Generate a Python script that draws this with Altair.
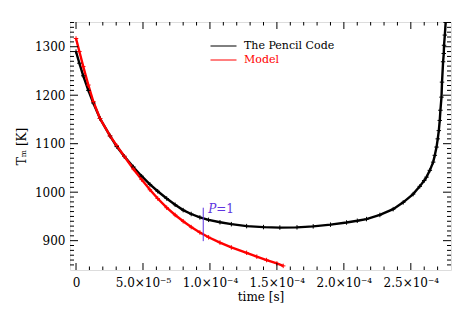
import altair as alt
import pandas as pd

# ---- data ----
pc_time = [0, 0.25e-5, 0.54e-5, 0.92e-5, 1.29e-5, 1.79e-5, 2.54e-5, 3.04e-5, 3.6e-5,
           4.28e-5, 4.9e-5, 5.52e-5, 6.1e-5, 6.77e-5, 7.4e-5, 8.0e-5, 8.6e-5, 9.25e-5,
           9.9e-5, 10.75e-5, 11.6e-5, 12.74e-5, 14.0e-5, 15.22e-5, 16.5e-5, 17.71e-5,
           19.0e-5, 20.2e-5, 21.0e-5, 21.69e-5, 22.69e-5, 23.68e-5, 24.43e-5, 25.17e-5,
           25.67e-5, 26.0e-5, 26.17e-5, 26.42e-5, 26.67e-5, 26.79e-5, 26.92e-5, 27.01e-5,
           27.09e-5, 27.16e-5, 27.21e-5, 27.29e-5, 27.33e-5, 27.41e-5, 27.46e-5, 27.48e-5,
           27.54e-5, 27.6e-5]
pc_temp = [1290, 1266, 1240, 1210, 1184, 1152, 1116, 1094, 1074,
           1052, 1033, 1016, 1002, 987, 974, 963, 955, 948,
           943, 938, 934, 930, 928, 927, 927.5, 929.5,
           933, 937.5, 941, 944.5, 953, 965, 979, 996,
           1012, 1024, 1031, 1045, 1062, 1076, 1093, 1110,
           1127, 1148, 1169, 1196, 1227, 1269, 1286, 1303,
           1324, 1350]

model_time = [0, 0.25e-5, 0.54e-5, 0.92e-5, 1.29e-5, 1.79e-5, 2.54e-5, 3.04e-5, 3.6e-5,
              4.28e-5, 4.9e-5, 5.52e-5, 6.1e-5, 6.77e-5, 7.4e-5, 8.0e-5, 8.6e-5, 9.25e-5,
              9.9e-5, 10.75e-5, 11.6e-5, 12.74e-5, 13.5e-5, 14.23e-5, 15.0e-5, 15.47e-5]
model_temp = [1317, 1290, 1259, 1221, 1187, 1152, 1116, 1096, 1074,
              1048, 1026, 1005, 987, 968, 953, 940, 928, 917,
              907, 896, 886, 875, 867, 860, 853, 848]

series_names = ["The Pencil Code", "Model"]
series_colors = ["#000000", "#ff0000"]

# P=1 marker
p1_time = [9.5e-5]
p1_low = [899]
p1_high = [968]
p1_label_time = [9.87e-5]
p1_label_temp = [957]

# axes
x_domain = [-4.5e-6, 2.8e-4]
y_domain = [839.5, 1351]
x_tick_vals = [0, 5e-5, 1e-4, 1.5e-4, 2e-4, 2.5e-4]
x_tick_labels = ["0", "5.0×10⁻⁵", "1.0×10⁻⁴", "1.5×10⁻⁴", "2.0×10⁻⁴", "2.5×10⁻⁴"]
x_minor = [1e-5, 2e-5, 3e-5, 4e-5, 6e-5, 7e-5, 8e-5, 9e-5, 1.1e-4, 1.2e-4, 1.3e-4, 1.4e-4,
           1.6e-4, 1.7e-4, 1.8e-4, 1.9e-4, 2.1e-4, 2.2e-4, 2.3e-4, 2.4e-4, 2.6e-4, 2.7e-4]
y_tick_vals = [900, 1000, 1100, 1200, 1300]
y_minor = [v for v in range(850, 1351, 10) if v % 100 != 0]

W, H = 381, 248
FONT = "DejaVu Serif"
BLUE = "#5e35e0"

df = pd.DataFrame({
    "t": pc_time + model_time,
    "T": pc_temp + model_temp,
    "series": [series_names[0]] * len(pc_time) + [series_names[1]] * len(model_time),
})

label_expr = "".join(
    f"abs(datum.value - ({v})) < 1e-9 ? '{l}' : " for v, l in zip(x_tick_vals, x_tick_labels)
) + "''"

xscale = alt.Scale(domain=x_domain, nice=False, zero=False)
yscale = alt.Scale(domain=y_domain, nice=False, zero=False)

xaxis = alt.Axis(values=x_tick_vals, labelExpr=label_expr, title="time [s]",
                 ticks=False, tickSize=0, domain=False, grid=False,
                 labelPadding=7, titlePadding=3, labelFont=FONT, titleFont=FONT,
                 labelFontSize=12, titleFontSize=12, titleFontWeight="normal",
                 labelColor="#000000", titleColor="#000000", labelFlush=False)
yaxis = alt.Axis(values=y_tick_vals, title="Tₘ [K]", ticks=False, tickSize=0,
                 domain=False, grid=False, labelPadding=5, titlePadding=6,
                 labelFont=FONT, titleFont=FONT, labelFontSize=12,
                 titleFontSize=12, titleFontWeight="normal",
                 labelColor="#000000", titleColor="#000000", format="d")


def X(field="t"):
    return alt.X(f"{field}:Q", scale=xscale, axis=xaxis)


def Y(field="T"):
    return alt.Y(f"{field}:Q", scale=yscale, axis=yaxis)


plus = "M-1,0L1,0M0,-1L0,1"

lines = alt.Chart(df).mark_line(
    strokeWidth=2.4, clip=True,
    point=alt.OverlayMarkDef(shape=plus, filled=False, size=20, strokeWidth=1),
).encode(
    x=X(), y=Y(),
    color=alt.Color("series:N",
                    scale=alt.Scale(domain=series_names, range=series_colors),
                    legend=alt.Legend(orient="none", legendX=140, legendY=17, title=None,
                                      symbolType="stroke", symbolSize=676,
                                      symbolStrokeWidth=1, clipHeight=14, rowPadding=0,
                                      padding=0, labelOffset=7, labelFont=FONT,
                                      labelFontSize=11,
                                      labelColor=alt.ExprRef("datum.label == 'Model' ? '#ff0000' : '#000000'"))),
    order="t:Q",
)


# inward ticks
def xticks(vals, length):
    d = pd.DataFrame({"t": vals})
    bottom = alt.Chart(d).mark_rule(color="black", strokeWidth=1).encode(
        x=X(), y=alt.value(H), y2=alt.value(H - length))
    top = alt.Chart(d).mark_rule(color="black", strokeWidth=1).encode(
        x=X(), y=alt.value(0), y2=alt.value(length))
    return [bottom, top]


def yticks(vals, length):
    d = pd.DataFrame({"T": vals})
    left = alt.Chart(d).mark_rule(color="black", strokeWidth=1).encode(
        y=Y(), x=alt.value(0), x2=alt.value(length))
    right = alt.Chart(d).mark_rule(color="black", strokeWidth=1).encode(
        y=Y(), x=alt.value(W), x2=alt.value(W - length))
    return [left, right]


ticks = (xticks(x_tick_vals, 7) + xticks(x_minor, 3.5)
         + yticks(y_tick_vals, 8) + yticks(y_minor, 4))

p1df = pd.DataFrame({"t": p1_time, "T": p1_low, "T2": p1_high})
p1_rule = alt.Chart(p1df).mark_rule(color=BLUE, strokeWidth=1).encode(
    x=X(), y=Y(), y2="T2:Q")

p1t = pd.DataFrame({"t": p1_label_time, "T": p1_label_temp})
p1_P = alt.Chart(p1t).mark_text(text="P", font=FONT, fontStyle="italic", fontSize=12,
                                color=BLUE, align="left", baseline="alphabetic").encode(
    x=X(), y=Y())
p1_eq = alt.Chart(p1t).mark_text(text="=1", font=FONT, fontSize=12, dx=8,
                                 color=BLUE, align="left", baseline="alphabetic").encode(
    x=X(), y=Y())

chart = alt.layer(lines, *ticks, p1_rule, p1_P, p1_eq).properties(
    width=W, height=H,
    autosize=alt.AutoSizeParams(type="none"),
    padding={"left": 62, "top": 14, "right": 13, "bottom": 37},
).configure_view(stroke="black", strokeWidth=1).configure(background="white")

chart.save("out.html", embed_options={"renderer": "svg", "actions": False})
